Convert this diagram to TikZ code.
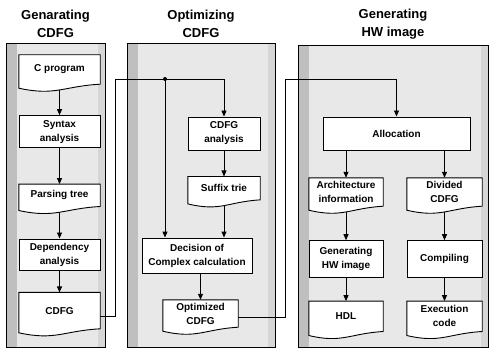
\documentclass[tikz,border=0pt]{standalone}
\usepackage{fontspec}
\setmainfont{Liberation Sans}
\usetikzlibrary{arrows.meta, positioning, calc}
\pgfdeclarelayer{panels}
\pgfdeclarelayer{wires}
\pgfdeclarelayer{sheets}
\pgfsetlayers{panels,wires,sheets,main}
\tikzstyle{process} = [rectangle, draw=black, fill=white, line width=0.9pt, inner sep=2pt, text centered, align=center, font=\bfseries\fontsize{10}{14}\selectfont]
\tikzstyle{document} = [rectangle, inner sep=2pt, text centered, align=center, font=\bfseries\fontsize{10}{14}\selectfont]
\tikzstyle{stage} = [rectangle, draw=black, line width=0.6pt, fill=gray!18, path picture={
    \fill[gray!50] (path picture bounding box.north west) rectangle ([xshift=11pt]path picture bounding box.south west);
    \fill[gray!32] (path picture bounding box.north east) rectangle ([xshift=-7pt]path picture bounding box.south east);}]
\tikzstyle{title} = [align=center, font=\bfseries\fontsize{13}{18}\selectfont]
\tikzstyle{arrow} = [line width=0.9pt, -{Triangle[length=6pt,width=5pt]}]
% sheet of paper with a wavy lower edge, drawn around a document node
\newcommand{\docsheet}[1]{%
  \filldraw[fill=white, line width=0.9pt] (#1.north west) -- (#1.north east) -- (#1.south east)
    .. controls ($(#1.south east)!0.45!(#1.south west)+(0,2)$) and ($(#1.south east)!0.55!(#1.south west)+(0,12)$) ..
    ([yshift=-4pt]#1.south west) -- cycle;}

\begin{document}
\begin{tikzpicture}[x=1pt, y=-1pt]
    \useasboundingbox (0,0) rectangle (490,350);

    % the three stages
    \begin{pgfonlayer}{panels}
        \node (pan1) [stage, minimum width=99pt, minimum height=304pt] at (55.5,195) {};
        \node (pan2) [stage, minimum width=148pt, minimum height=304pt] at (201,195) {};
        \node (pan3) [stage, minimum width=190pt, minimum height=302pt] at (393,196) {};
    \end{pgfonlayer}
    \node [title] at (55.5,24) {Genarating\\CDFG};
    \node [title] at (201,24) {Optimizing\\CDFG};
    \node [title] at (393,24) {Generating\\HW image};

    % Genarating CDFG
    \node (cprog) [document, minimum width=81pt, minimum height=29pt] at (59.5,69.5) {C program};
    \node (syntax) [process, minimum width=81pt, minimum height=32pt, below=31pt of cprog] {Syntax\\analysis};
    \node (ptree) [document, minimum width=81pt, minimum height=22pt, below=36pt of syntax] {Parsing tree};
    \node (dep) [process, minimum width=81pt, minimum height=31pt, below=32pt of ptree] {Dependency\\analysis};
    \node (cdfg) [document, minimum width=81pt, minimum height=36pt, below=22pt of dep] {CDFG};

    % Optimizing CDFG
    \node (ana) [process, minimum width=72pt, minimum height=33pt] at (224,133.5) {CDFG\\analysis};
    \node (suffix) [document, minimum width=72pt, minimum height=23pt, below=26pt of ana] {Suffix trie};
    \node (dec) [process, minimum width=110pt, minimum height=35pt] at (197,255.5) {Decision of\\Complex calculation};
    \node (opt) [document, minimum width=75pt, minimum height=27pt] at (200.5,313.5) {Optimized\\CDFG};

    % Generating HW image
    \node (alloc) [process, minimum width=147pt, minimum height=33pt] at (396.5,133.5) {Allocation};
    \node (arch) [document, minimum width=74pt, minimum height=28pt] at (346,192) {Architecture\\information};
    \node (div) [document, minimum width=75pt, minimum height=28pt] at (444.5,192) {Divided\\CDFG};
    \node (genhw) [process, minimum width=74pt, minimum height=37pt, below=34pt of arch] {Generating\\HW image};
    \node (comp) [process, minimum width=75pt, minimum height=37pt, below=34pt of div] {Compiling};
    \node (hdl) [document, minimum width=74pt, minimum height=30pt, below=23pt of genhw] {HDL};
    \node (exec) [document, minimum width=75pt, minimum height=30pt, below=23pt of comp] {Execution\\code};

    \begin{pgfonlayer}{sheets}
        \foreach \n in {cprog,ptree,cdfg,suffix,opt,arch,div,hdl,exec}
            \docsheet{\n};
    \end{pgfonlayer}

    % connectors
    \coordinate (bendA) at (115,79);
    \coordinate (fork) at (165,79);
    \coordinate (bendB) at (285,79);
    \begin{pgfonlayer}{wires}
        \draw [arrow] (cprog) -- (syntax);
        \draw [arrow] (syntax) -- (ptree);
        \draw [arrow] (ptree) -- (dep);
        \draw [arrow] (dep) -- (cdfg);
        \draw [arrow] ([yshift=-6pt]cdfg.east) -| (bendA) -| (ana);
        \draw [arrow] (fork) -- (fork |- dec.north);
        \draw [arrow] (ana) -- (suffix);
        \draw [arrow] (suffix) -- (suffix |- dec.north);
        \draw [arrow] (dec.south -| opt) -- (opt);
        \draw [arrow] ([yshift=-4pt]opt.east) -| (bendB) -| (alloc);
        \draw [arrow] (alloc.south -| arch) -- (arch);
        \draw [arrow] (alloc.south -| div) -- (div);
        \draw [arrow] (arch) -- (genhw);
        \draw [arrow] (div) -- (comp);
        \draw [arrow] (genhw) -- (hdl);
        \draw [arrow] (comp) -- (exec);
    \end{pgfonlayer}
    \fill (fork) circle (2pt);
\end{tikzpicture}
\end{document}
